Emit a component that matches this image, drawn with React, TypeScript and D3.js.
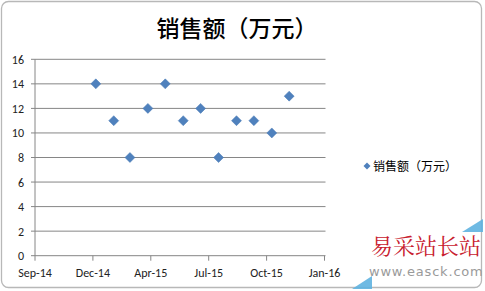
import React from "react";
import * as d3 from "d3";

// Monthly sales (万元), recorded on the first day of each month of 2015
const months = [
  "2015-01-01", "2015-02-01", "2015-03-01", "2015-04-01", "2015-05-01", "2015-06-01",
  "2015-07-01", "2015-08-01", "2015-09-01", "2015-10-01", "2015-11-01", "2015-12-01",
];
const sales = [14, 11, 8, 12, 14, 11, 12, 8, 11, 11, 10, 13];

// Axis setup: date axis starting at serial-date 41900 with a 100-day major unit
const axisStart = "2014-09-18";
const axisEnd = "2016-01-31";
const dayStep = 100;
const yTicks = [0, 2, 4, 6, 8, 10, 12, 14, 16];

const title = "销售额（万元）";
const seriesName = "销售额（万元）";

const W = 485;
const H = 291;
const left = 35;
const right = 324.5;
const top = 59.3;
const bottom = 255.7;

const parse = d3.utcParse("%Y-%m-%d");
const fmt = d3.utcFormat("%b-%y");

export default function App() {
  const t0 = parse(axisStart)!;
  const t1 = parse(axisEnd)!;
  const x = d3.scaleUtc().domain([t0, t1]).range([left, right]);
  const y = d3.scaleLinear().domain([0, 16]).range([bottom, top]);
  const nTicks = Math.round(d3.utcDay.count(t0, t1) / dayStep) + 1;
  const xTicks = d3.range(0, nTicks).map((i) => d3.utcDay.offset(t0, i * dayStep));
  const points = months.map((m, i) => ({ d: parse(m)!, v: sales[i] }));
  const diamond = (cx: number, cy: number, r: number) =>
    `M${cx},${cy - r}L${cx + r},${cy}L${cx},${cy + r}L${cx - r},${cy}Z`;
  const axisFont = "Calibri, 'Liberation Sans', Arial, sans-serif";
  const cjk = "'Noto Sans CJK SC', sans-serif";

  return (
    <svg
      width={W}
      height={H}
      style={{ position: "absolute", left: 0, top: 0, background: "#fff" }}
    >
      <rect x={1.5} y={1.5} width={480} height={286} rx={7} fill="#fff" stroke="#b8b8b8" strokeWidth={1.3} />

      <text x={237} y={37} textAnchor="middle" fontFamily={cjk} fontSize={23} fontWeight={500} fill="#000">
        {title}
      </text>

      {/* horizontal gridlines and y ticks */}
      {yTicks.map((t) => (
        <g key={t}>
          <line x1={left - 4} x2={right + 1} y1={y(t)} y2={y(t)} stroke="#868686" strokeWidth={1} />
          <text x={24} y={y(t) + 4.5} textAnchor="end" fontFamily={axisFont} fontSize={12} fill="#222">
            {t}
          </text>
        </g>
      ))}
      <line x1={left} x2={left} y1={top} y2={bottom} stroke="#868686" strokeWidth={1} />

      {/* x axis ticks and labels */}
      {xTicks.map((d, i) => (
        <g key={i}>
          <line x1={x(d)} x2={x(d)} y1={bottom} y2={bottom + 5} stroke="#868686" strokeWidth={1} />
          <text x={x(d)} y={277} textAnchor="middle" fontFamily={axisFont} fontSize={12} fill="#222">
            {fmt(d)}
          </text>
        </g>
      ))}

      {/* data markers */}
      {points.map((p, i) => (
        <path key={i} d={diamond(x(p.d), y(p.v), 5)} fill="#4f81bd" stroke="#4a7ab5" strokeWidth={0.5} />
      ))}

      {/* legend */}
      <path d={diamond(367, 166, 3.5)} fill="#4f81bd" />
      <text x={373} y={170.5} fontFamily={cjk} fontSize={12} fill="#000">
        {seriesName}
      </text>

      {/* site watermark */}
      <text x={371} y={254} fontFamily="'Noto Serif CJK SC', 'Noto Sans CJK SC', serif" fontSize={22} fill="#c8202e">
        易采站长站
      </text>
      <text x={369} y={276} fontFamily="'DejaVu Sans', sans-serif" fontSize={13} fill="#9a9a9a" letterSpacing={0.8}>
        www.easck.com
      </text>
      <polygon points="352,289 372,289 372,276" fill="#5fb3e0" opacity={0.9} />
      <polygon points="462,232 483,232 483,219" fill="#5fb3e0" opacity={0.9} />
    </svg>
  );
}
